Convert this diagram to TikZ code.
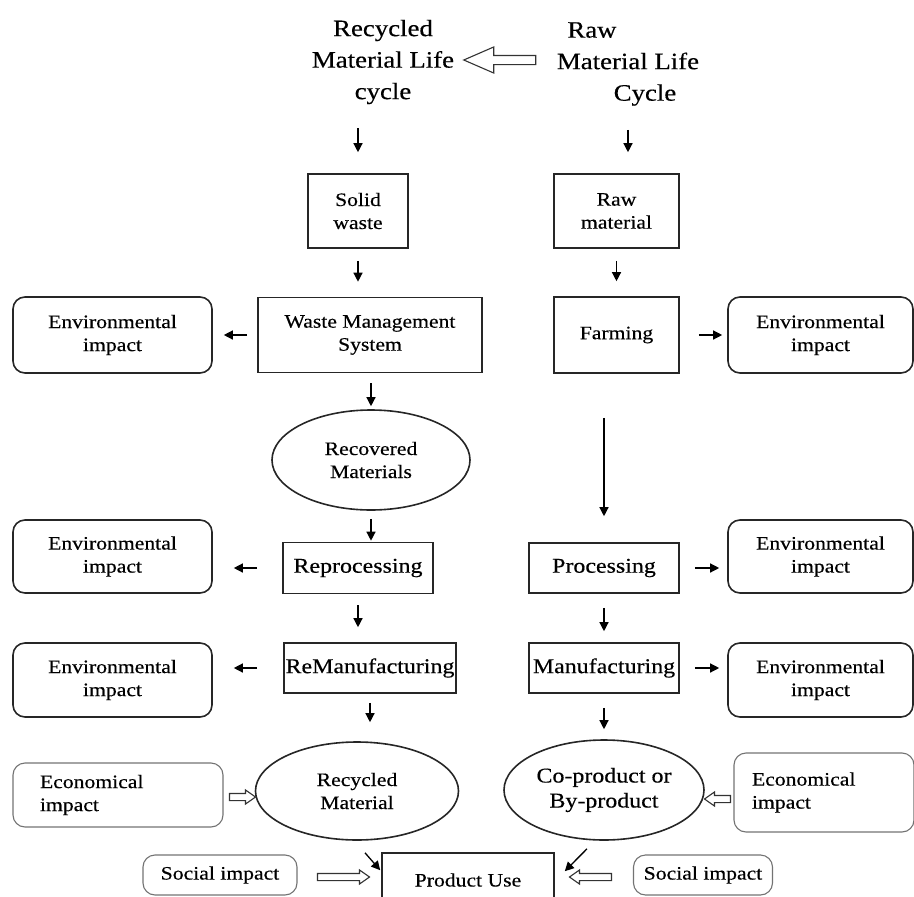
\documentclass[tikz,border=0pt]{standalone}
\usepackage{fontspec}
\setmainfont{Liberation Serif}[FakeStretch=1.14,FakeBold=0.4]
\usetikzlibrary{shapes.geometric,shapes.arrows,arrows.meta}

\begin{document}
\begin{tikzpicture}[x=1pt,y=-1pt,
  every node/.style={inner sep=0pt, text=black},
  txt/.style={font=\fontsize{19}{23}\selectfont, align=center},
  big/.style={font=\fontsize{21}{25}\selectfont, align=center},
  title/.style={font=\fontsize{23.5}{31.5}\selectfont, align=center},
  box/.style={draw=black!85, line width=1.6pt, rectangle},
  impact/.style={draw=black!85, line width=1.6pt, rounded corners=12pt,
    minimum width=199pt, txt},
  soft/.style={draw=black!55, line width=1.1pt, rounded corners=12pt},
  oval/.style={draw=black!85, line width=1.6pt, ellipse},
  arr/.style={draw=black, line width=1.3pt, -{Triangle[length=9pt,width=9pt]}},
  hollow/.style={single arrow, draw=black!80, line width=1.1pt, fill=white,
    inner xsep=0pt}
]
\path[use as bounding box] (0,0) rectangle (914,897);
\clip (0,0) rectangle (914,897);

% titles of the two life cycles
\node[title] (rtitle) at (383,62) {Recycled\\Material Life\\cycle};
\node[title] (wtitle) at (628,64) {Raw\hspace*{72pt}\\Material Life\\\hspace*{34pt}Cycle};
\node[hollow, shape border rotate=180, minimum height=72pt, inner ysep=4pt,
  single arrow head extend=8.5pt, single arrow tip angle=47] (link) at (505,60) {};

% recycled material column
\node[box, txt, minimum width=100pt, minimum height=74pt] (sw) at (358,211) {Solid\\waste};
\node[box, txt, minimum width=224pt, minimum height=75pt] (wms) at (370,335) {Waste Management\\System};
\node[oval, txt, minimum width=198pt, minimum height=100pt] (rec) at (371,460) {Recovered\\Materials};
\node[box, big, minimum width=150pt, minimum height=51pt] (repro) at (358,568) {Reprocessing};
\node[box, big, minimum width=172pt, minimum height=50pt] (reman) at (370,668) {ReManufacturing};
\node[oval, txt, minimum width=203pt, minimum height=98pt] (recm) at (357,791) {Recycled\\Material};

% raw material column
\node[box, txt, minimum width=125pt, minimum height=74pt] (rm) at (616.5,211) {Raw\\material};
\node[box, txt, minimum width=125pt, minimum height=76pt] (farm) at (616.5,335) {Farming};
\node[box, big, minimum width=150pt, minimum height=50pt] (proc) at (604,568) {Processing};
\node[box, big, minimum width=150pt, minimum height=50pt] (manu) at (604,668) {Manufacturing};
\node[oval, big, minimum width=200pt, minimum height=100pt] (coprod) at (604,790) {Co-product or\\By-product};

% product use
\node[box, txt, minimum width=172pt, minimum height=54pt] (prod) at (468,880) {Product Use};

% environmental impacts
\node[impact, minimum height=76pt] (envL1) at (112.5,335) {Environmental\\impact};
\node[impact, minimum height=73pt] (envL2) at (112.5,556.5) {Environmental\\impact};
\node[impact, minimum height=74pt] (envL3) at (112.5,680) {Environmental\\impact};
\node[impact, minimum height=76pt, minimum width=185pt] (envR1) at (820.5,335) {Environmental\\impact};
\node[impact, minimum height=73pt, minimum width=185pt] (envR2) at (820.5,556.5) {Environmental\\impact};
\node[impact, minimum height=74pt, minimum width=185pt] (envR3) at (820.5,680) {Environmental\\impact};

% economical and social impacts
\node[soft, txt, align=left, text width=156pt, inner xsep=27pt, minimum height=64pt] (ecoL) at (118,795) {Economical\\impact};
\node[soft, txt, align=left, text width=144pt, inner xsep=18pt, minimum height=79pt] (ecoR) at (824,792.5) {Economical\\impact};
\node[soft, txt, minimum width=154pt, minimum height=40pt] (socL) at (220,875) {Social impact};
\node[soft, txt, minimum width=139pt, minimum height=40pt] (socR) at (703,875) {Social impact};

% hollow arrows into the outputs
\node[hollow, minimum height=26pt, inner ysep=3pt, single arrow head extend=3.5pt,
  single arrow tip angle=70] (eL) at (240,797) {};
\node[hollow, shape border rotate=180, minimum height=26pt, inner ysep=3pt,
  single arrow head extend=3.5pt, single arrow tip angle=70] (eR) at (720,799) {};
\node[hollow, minimum height=52pt, inner ysep=3pt, single arrow head extend=3.5pt,
  single arrow tip angle=70] (sL) at (341,877) {};
\node[hollow, shape border rotate=180, minimum height=42pt, inner ysep=3pt,
  single arrow head extend=3.5pt, single arrow tip angle=70] (sR) at (593,877) {};

% flow arrows
\draw[arr, shorten <=24pt, shorten >=21pt] (rtitle.south -| sw.north) -- (sw.north);
\draw[arr, shorten <=24pt, shorten >=21pt] (wtitle.south) -- (wtitle.south |- rm.north);
\draw[arr, shorten <=12pt, shorten >=15pt] (sw.south) -- (sw.south |- wms.north);
\draw[arr, shorten <=12pt, shorten >=15pt] (rm.south) -- (farm.north);
\draw[arr, shorten <=10pt, shorten >=11pt] (wms.west) -- (envL1.east);
\draw[arr, shorten <=19pt, shorten >=5pt] (farm.east) -- (envR1.west);
\draw[arr, shorten <=10pt, shorten >=3pt] (wms.south -| rec.north) -- (rec.north);
\draw[arr, shorten <=44pt, shorten >=26pt] (proc.north |- farm.south) -- (proc.north);
\draw[arr, shorten <=8pt, shorten >=1pt] (rec.south) -- (rec.south |- repro.north);
\draw[arr, shorten <=25pt, shorten >=21pt] (repro.west) -- (repro.west -| envL2.east);
\draw[arr, shorten <=15pt, shorten >=8pt] (proc.east) -- (proc.east -| envR2.west);
\draw[arr, shorten <=11pt, shorten >=15pt] (repro.south) -- (repro.south |- reman.north);
\draw[arr, shorten <=14pt, shorten >=11pt] (proc.south) -- (manu.north);
\draw[arr, shorten <=26pt, shorten >=21pt] (reman.west) -- (reman.west -| envL3.east);
\draw[arr, shorten <=15pt, shorten >=8pt] (manu.east) -- (manu.east -| envR3.west);
\draw[arr, shorten <=9pt, shorten >=19pt] (reman.south) -- (reman.south |- recm.north);
\draw[arr, shorten <=14pt, shorten >=10pt] (manu.south) -- (coprod.north);
\draw[arr] ([shift={(8,12)}]recm.south) -- ([shift={(-1,18)}]prod.north west);
\draw[arr] ([shift={(-17,8)}]coprod.south) -- ([shift={(10,19)}]prod.north east);
\end{tikzpicture}
\end{document}
